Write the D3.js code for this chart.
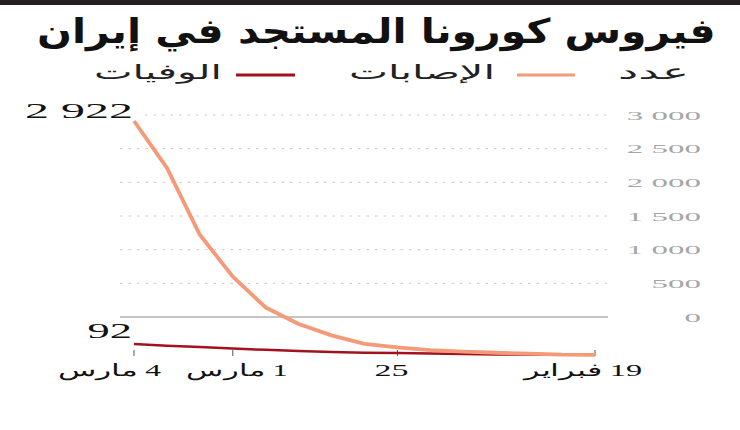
<!DOCTYPE html>
<html><head><meta charset="utf-8">
<script src="https://cdn.jsdelivr.net/npm/d3@7"></script>
<style>body{margin:0;background:#fff} svg{display:block}</style>
</head><body>
<script>
// ---- data ----
const dates = ["2020-02-19","2020-02-20","2020-02-21","2020-02-22","2020-02-23","2020-02-24","2020-02-25",
  "2020-02-26","2020-02-27","2020-02-28","2020-02-29","2020-03-01","2020-03-02","2020-03-03","2020-03-04"];
const cases  = [2, 5, 18, 28, 43, 61, 95, 139, 245, 388, 593, 978, 1501, 2336, 2922];
const deaths = [2, 2, 4, 5, 8, 12, 16, 19, 26, 34, 43, 54, 66, 77, 92];
const yTicks = [0, 500, 1000, 1500, 2000, 2500, 3000];
const xTickDates  = ["2020-03-04", "2020-03-01", "2020-02-25", "2020-02-19"];
const xTickLabels = ["4 مارس", "1 مارس", "25", "19 فبراير"];
const titleText = "فيروس كورونا المستجد في إيران";
const legendTitle = "عدد";
const seriesNames = ["الإصابات", "الوفيات"];

// ---- layout ----
const W = 740, H = 430;
const xLabelLayout = [{dx: -24, w: 104}, {dx: 5, w: 100}, {dx: -6, w: 34}, {dx: -13, w: 120}];
const colCases = "#f59a78", colDeaths = "#a3121c";
const serif = "'Liberation Serif', 'DejaVu Serif', serif";
const sans = "'DejaVu Sans', 'Noto Sans', sans-serif";

const svg = d3.select("body").append("svg").attr("width", W).attr("height", H);
const parse = d3.timeParse("%Y-%m-%d");
const pts = dates.map((d, i) => ({date: parse(d), c: cases[i], d: deaths[i]}));

const x = d3.scaleTime().domain(d3.extent(pts, p => p.date)).range([595, 134]);
const yAxis = d3.scaleLinear().domain([0, 3000]).range([317, 115]);
const yC = d3.scaleLinear().domain([0, d3.max(cases)]).range([355, 121]);
const yD = d3.scaleLinear().domain([0, d3.max(deaths)]).range([355, 344]);
const fmt = d3.formatLocale({thousands: " ", grouping: [3], decimal: ".", currency: ["", ""]}).format(",");

function fitText(parent, str, o) {
  const g = parent.append("g");
  const t = g.append("text").text(str)
    .attr("font-family", o.family).attr("font-size", o.size)
    .attr("font-weight", o.weight || "normal").attr("fill", o.fill || "#000");
  if (o.rtl) t.attr("direction", "rtl");
  const b = t.node().getBBox();
  let s = o.scale || 1, left;
  if (o.left != null && o.right != null) { s = (o.right - o.left) / b.width; left = o.left; }
  else if (o.center != null && o.width != null) { s = o.width / b.width; left = o.center - o.width / 2; }
  else if (o.right != null) left = o.right - b.width * s;
  else if (o.center != null) left = o.center - b.width * s / 2;
  else left = o.left;
  g.attr("transform", `translate(${left - s * b.x},${o.y}) scale(${s},1)`);
  return g;
}

// top bar
svg.append("rect").attr("x", 0).attr("y", 0).attr("width", W).attr("height", 5).attr("fill", "#231f20");

// title
fitText(svg, titleText, {left: 37, right: 716, y: 43, family: sans, size: 34, weight: "bold", fill: "#111"});

// legend
fitText(svg, legendTitle, {left: 618, right: 689, y: 79, family: sans, size: 20, fill: "#222"});
fitText(svg, seriesNames[0], {left: 349, right: 495, y: 79, family: sans, size: 20, fill: "#222"});
fitText(svg, seriesNames[1], {left: 94, right: 222, y: 79, family: sans, size: 20, fill: "#222"});
svg.append("line").attr("x1", 517).attr("x2", 575).attr("y1", 75).attr("y2", 75)
  .attr("stroke", colCases).attr("stroke-width", 3);
svg.append("line").attr("x1", 236).attr("x2", 295).attr("y1", 75).attr("y2", 75)
  .attr("stroke", colDeaths).attr("stroke-width", 3);

// grid
const grid = svg.append("g");
yTicks.forEach(v => {
  grid.append("line")
    .attr("x1", v === 3000 ? 145 : 120).attr("x2", 608)
    .attr("y1", yAxis(v)).attr("y2", yAxis(v))
    .attr("stroke", v === 0 ? "#8a8a8a" : "#c8c8c8")
    .attr("stroke-width", 1)
    .attr("stroke-dasharray", v === 0 ? null : "2.5,6");
  fitText(grid, fmt(v), {right: 701, y: yAxis(v) + 4.5, family: serif, size: 12, scale: 2.75, fill: "#a6a6a6"});
});

// x axis ticks
xTickDates.forEach((d, i) => {
  const xp = x(parse(d));
  svg.append("line").attr("x1", xp).attr("x2", xp).attr("y1", 350).attr("y2", 356)
    .attr("stroke", "#555").attr("stroke-width", 1);
  fitText(svg, xTickLabels[i], {center: xp + xLabelLayout[i].dx, width: xLabelLayout[i].w, y: 376,
    family: serif, size: 17, fill: "#111", rtl: true});
});

// lines
const lineC = d3.line().x(p => x(p.date)).y(p => yC(p.c));
const lineD = d3.line().x(p => x(p.date)).y(p => yD(p.d));
svg.append("path").datum(pts).attr("d", lineD).attr("fill", "none")
  .attr("stroke", colDeaths).attr("stroke-width", 2.5).attr("stroke-linejoin", "round");
svg.append("path").datum(pts).attr("d", lineC).attr("fill", "none")
  .attr("stroke", colCases).attr("stroke-width", 3.8).attr("stroke-linejoin", "round");

// value labels
const last = pts[pts.length - 1];
fitText(svg, fmt(last.c), {right: x(last.date) - 1, y: yC(last.c) - 3, family: serif, size: 22, scale: 2.18, fill: "#111"});
fitText(svg, fmt(last.d), {right: x(last.date) - 2, y: yD(last.d) - 6, family: serif, size: 21, scale: 2.12, fill: "#111"});
</script>
</body></html>
